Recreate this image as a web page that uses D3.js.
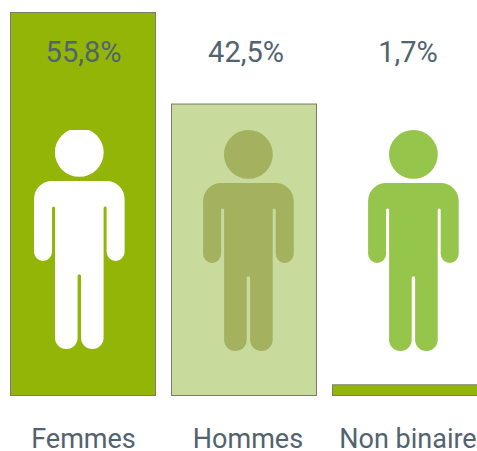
<!DOCTYPE html>
<html>
<head>
<meta charset="utf-8">
<script src="https://cdn.jsdelivr.net/npm/d3@7"></script>
<style>
  html, body { margin: 0; padding: 0; background: #fff; overflow: hidden; }
  text { font-family: Roboto, sans-serif; fill: #52636f; }
</style>
</head>
<body>
<div class="canvas"></div>
<script>
// chart data
const categories = ["Femmes", "Hommes", "Non binaire"];
const values = [55.8, 42.5, 1.7];
const valueLabels = ["55,8%", "42,5%", "1,7%"];
const barColors = ["#93b508", "#c9da9d", "#93b508"];
const iconColors = ["#ffffff", "#a4b15f", "#95c54b"];

const svgWidth = 477;
const svgHeight = 451;

const svg = d3.select(".canvas")
  .append("svg")
    .attr("width", svgWidth)
    .attr("height", svgHeight)
    .style("display", "block");

const x = d3.scaleBand()
  .domain(categories)
  .range([-5, 493])
  .paddingInner(15 / 161)
  .paddingOuter(15 / 161);

const y = d3.scaleLinear()
  .domain([0, 55.8])
  .range([396, 12]);

// bars
svg.selectAll("rect.bar")
  .data(categories)
  .enter()
  .append("rect")
    .attr("class", "bar")
    .attr("x", d => x(d) + 0.5)
    .attr("y", (d, i) => y(values[i]) + 0.5)
    .attr("width", x.bandwidth() - 1)
    .attr("height", (d, i) => y(0) - y(values[i]) - 1)
    .attr("fill", (d, i) => barColors[i])
    .attr("stroke", "#7b7b70")
    .attr("stroke-width", 1);

// the icons sit a little off the bar centres in the original
const iconCentre = [79.3, 248.4, 413.4];
const iconFeet = [349, 351, 351];

const icons = svg.selectAll("g.person")
  .data(categories)
  .enter()
  .append("g")
    .attr("class", "person")
    .attr("transform", (d, i) => `translate(${iconCentre[i]},${iconFeet[i]})`)
    .attr("fill", (d, i) => iconColors[i]);

// person outline, origin between the feet
icons.append("path")
  .attr("d", [
    "M-45.3,-150 A18,18 0 0 1 -27.3,-168 H27.3 A18,18 0 0 1 45.3,-150 V-97",
    "A9,9 0 0 1 27.3,-97 V-141 A1.5,1.5 0 0 0 24.3,-141 V-11.3",
    "A11.3,11.3 0 0 1 1.7,-11.3 V-73 A1.7,1.7 0 0 0 -1.7,-73 V-11.3",
    "A11.3,11.3 0 0 1 -24.3,-11.3 V-141 A1.5,1.5 0 0 0 -27.3,-141 V-97",
    "A9,9 0 0 1 -45.3,-97 Z"
  ].join(" "));

icons.append("circle")
  .attr("cx", 0)
  .attr("cy", -196.6)
  .attr("r", 24.4);

// the first head is cut flat at the top
svg.append("clipPath")
  .attr("id", "headCut")
  .append("rect")
    .attr("x", -60)
    .attr("y", -219)
    .attr("width", 120)
    .attr("height", 230);
icons.filter((d, i) => i === 0).attr("clip-path", "url(#headCut)");

// value labels
svg.selectAll("text.value")
  .data(valueLabels)
  .enter()
  .append("text")
    .attr("class", "value")
    .attr("x", (d, i) => [83.5, 246, 408][i])
    .attr("y", 61.5)
    .attr("text-anchor", "middle")
    .style("font-size", "29px")
    .text(d => d);

// category labels
svg.selectAll("text.cat")
  .data(categories)
  .enter()
  .append("text")
    .attr("class", "cat")
    .attr("x", (d, i) => [83.5, 248, 408][i])
    .attr("y", 448)
    .attr("text-anchor", "middle")
    .style("font-size", "27px")
    .text(d => d);
</script>
</body>
</html>
